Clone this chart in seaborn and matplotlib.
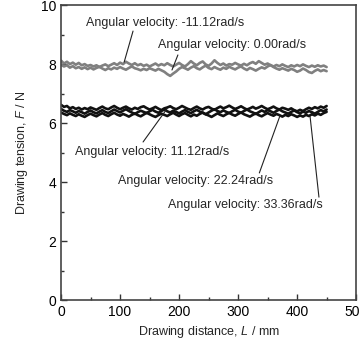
import numpy as np
import pandas as pd
import seaborn as sns
import matplotlib.pyplot as plt
from matplotlib.ticker import MultipleLocator

sns.set_style('white')
plt.rcParams['font.family'] = ['Liberation Sans', 'DejaVu Sans']
plt.rcParams['mathtext.fontset'] = 'custom'
plt.rcParams['mathtext.it'] = 'Liberation Sans:italic'
plt.rcParams['mathtext.rm'] = 'Liberation Sans'

# drawing distance (mm)
distance = list(range(0, 455, 5))

# drawing tension (N)
f_m1112 = [8.12, 8.02, 8.08, 8.00, 8.05, 7.98, 8.04, 7.96, 8.00, 7.94,
           7.97, 7.92, 7.96, 7.90, 7.95, 7.99, 7.93, 7.98, 8.03, 7.97,
           8.05, 8.00, 8.08, 8.02, 7.97, 8.03, 7.96, 8.00, 7.94, 7.98,
           7.92, 7.97, 8.02, 7.95, 8.00, 7.96, 8.03, 7.97, 7.92, 7.98,
           8.04, 7.97, 7.92, 8.00, 8.10, 8.02, 7.96, 8.04, 8.09, 7.99,
           7.94, 8.02, 8.13, 8.04, 7.97, 8.02, 7.95, 8.00, 7.98, 8.04,
           7.99, 7.95, 8.01, 7.96, 8.03, 8.07, 8.01, 8.10, 8.04, 7.98,
           8.02, 7.96, 7.92, 7.97, 7.93, 7.99, 7.94, 7.90, 7.96, 7.92,
           7.97, 7.93, 7.99, 7.94, 7.90, 7.95, 7.91, 7.96, 7.92, 7.95,
           7.90]
f_000 = [7.98, 7.92, 7.96, 7.88, 7.93, 7.86, 7.90, 7.84, 7.89, 7.83,
         7.88, 7.82, 7.87, 7.91, 7.85, 7.80, 7.86, 7.82, 7.88, 7.84,
         7.90, 7.85, 7.81, 7.87, 7.92, 7.86, 7.83, 7.79, 7.84, 7.80,
         7.86, 7.82, 7.78, 7.84, 7.79, 7.74, 7.66, 7.60, 7.68, 7.75,
         7.84, 7.90, 7.86, 7.81, 7.88, 7.93, 7.86, 7.82, 7.89, 7.95,
         7.87, 7.83, 7.90, 7.85, 7.81, 7.88, 7.84, 7.91, 7.86, 7.82,
         7.88, 7.92, 7.85, 7.80, 7.87, 7.83, 7.78, 7.84, 7.89, 7.85,
         7.92, 7.97, 7.90, 7.85, 7.81, 7.86, 7.82, 7.78, 7.84, 7.80,
         7.74, 7.78, 7.85, 7.80, 7.73, 7.70, 7.77, 7.82, 7.76, 7.80,
         7.76]
f_1112 = [6.62, 6.55, 6.58, 6.50, 6.54, 6.48, 6.52, 6.46, 6.51, 6.47,
          6.53, 6.49, 6.45, 6.51, 6.56, 6.50, 6.47, 6.53, 6.58, 6.52,
          6.47, 6.52, 6.56, 6.50, 6.46, 6.52, 6.48, 6.54, 6.57, 6.51,
          6.46, 6.50, 6.55, 6.49, 6.44, 6.50, 6.53, 6.57, 6.51, 6.47,
          6.52, 6.58, 6.53, 6.48, 6.45, 6.51, 6.56, 6.50, 6.46, 6.52,
          6.55, 6.49, 6.45, 6.51, 6.56, 6.50, 6.54, 6.59, 6.53, 6.48,
          6.52, 6.57, 6.51, 6.46, 6.50, 6.55, 6.49, 6.53, 6.58, 6.52,
          6.47, 6.51, 6.56, 6.50, 6.46, 6.52, 6.49, 6.45, 6.50, 6.44,
          6.40, 6.45, 6.41, 6.47, 6.52, 6.48, 6.54, 6.50, 6.56, 6.52,
          6.58]
f_2224 = [6.48, 6.42, 6.38, 6.44, 6.40, 6.35, 6.41, 6.37, 6.32, 6.38,
          6.43, 6.37, 6.33, 6.39, 6.44, 6.38, 6.34, 6.40, 6.46, 6.41,
          6.36, 6.42, 6.47, 6.41, 6.36, 6.31, 6.37, 6.42, 6.38, 6.34,
          6.40, 6.45, 6.39, 6.35, 6.41, 6.46, 6.40, 6.36, 6.42, 6.38,
          6.33, 6.39, 6.44, 6.38, 6.34, 6.40, 6.45, 6.39, 6.35, 6.30,
          6.36, 6.42, 6.47, 6.41, 6.37, 6.43, 6.38, 6.34, 6.40, 6.45,
          6.39, 6.35, 6.41, 6.46, 6.40, 6.36, 6.31, 6.37, 6.43, 6.38,
          6.44, 6.40, 6.35, 6.41, 6.46, 6.40, 6.36, 6.32, 6.38, 6.43,
          6.37, 6.33, 6.39, 6.35, 6.41, 6.37, 6.32, 6.38, 6.44, 6.40,
          6.46]
f_3336 = [6.36, 6.31, 6.27, 6.33, 6.28, 6.24, 6.30, 6.25, 6.21, 6.27,
          6.32, 6.27, 6.23, 6.29, 6.34, 6.28, 6.24, 6.30, 6.35, 6.29,
          6.25, 6.31, 6.27, 6.22, 6.28, 6.33, 6.27, 6.23, 6.29, 6.35,
          6.30, 6.25, 6.21, 6.27, 6.32, 6.28, 6.24, 6.30, 6.35, 6.29,
          6.24, 6.30, 6.34, 6.28, 6.23, 6.29, 6.25, 6.31, 6.36, 6.30,
          6.26, 6.21, 6.27, 6.33, 6.28, 6.24, 6.30, 6.35, 6.29, 6.25,
          6.31, 6.36, 6.30, 6.26, 6.22, 6.28, 6.33, 6.27, 6.23, 6.29,
          6.34, 6.29, 6.25, 6.31, 6.27, 6.22, 6.28, 6.24, 6.30, 6.26,
          6.21, 6.26, 6.22, 6.28, 6.24, 6.30, 6.26, 6.32, 6.28, 6.34,
          6.38]

labels = ['-11.12', '0.00', '11.12', '22.24', '33.36']
series = [f_m1112, f_000, f_1112, f_2224, f_3336]
colors = ['#808080', '#808080', '#111111', '#111111', '#111111']

df = pd.concat([pd.DataFrame({'L': distance, 'F': s, 'w': lab})
                for lab, s in zip(labels, series)])

fig = plt.figure(figsize=(3.59, 3.41), dpi=100)
ax = fig.add_axes([0.170, 0.120, 0.822, 0.865])

sns.lineplot(data=df, x='L', y='F', hue='w', palette=dict(zip(labels, colors)),
             linewidth=1.9, legend=False, ax=ax)

# annotations: label, text position, line start, line end
notes = [
    ('-11.12', (176, 9.39), (122, 9.12), (107, 8.07)),
    ('0.00', (290, 8.64), (198, 8.31), (188, 7.80)),
    ('11.12', (155, 5.02), (139, 5.36), (180, 6.50)),
    ('22.24', (228, 4.03), (336, 4.31), (371, 6.25)),
    ('33.36', (313, 3.22), (437, 3.49), (422, 6.22)),
]
for lab, txt, start, end in notes:
    ax.text(txt[0], txt[1], 'Angular velocity: %srad/s' % lab,
            ha='center', va='center', fontsize=9)
    ax.annotate('', xy=end, xytext=start,
                arrowprops=dict(arrowstyle='-', color='#222222', lw=0.8,
                                shrinkA=0, shrinkB=0))

ax.set_xlim(0, 500)
ax.set_ylim(0, 10)
ax.xaxis.set_major_locator(MultipleLocator(100))
ax.xaxis.set_minor_locator(MultipleLocator(50))
ax.yaxis.set_major_locator(MultipleLocator(2))
ax.yaxis.set_minor_locator(MultipleLocator(1))
ax.tick_params(which='both', direction='in', bottom=True, left=True,
               top=False, right=False, colors='#333333', labelcolor='black',
               labelsize=10)
ax.tick_params(which='major', length=4, width=1)
ax.tick_params(which='minor', length=2, width=1)
for sp in ax.spines.values():
    sp.set_color('#444444')
    sp.set_linewidth(1.2)

ax.set_xlabel(r'Drawing distance, $\mathit{L}$ / mm', fontsize=9, labelpad=4)
ax.set_ylabel(r'Drawing tension, $\mathit{F}$ / N', fontsize=9, labelpad=8)

fig.savefig('out.png', dpi=100)
